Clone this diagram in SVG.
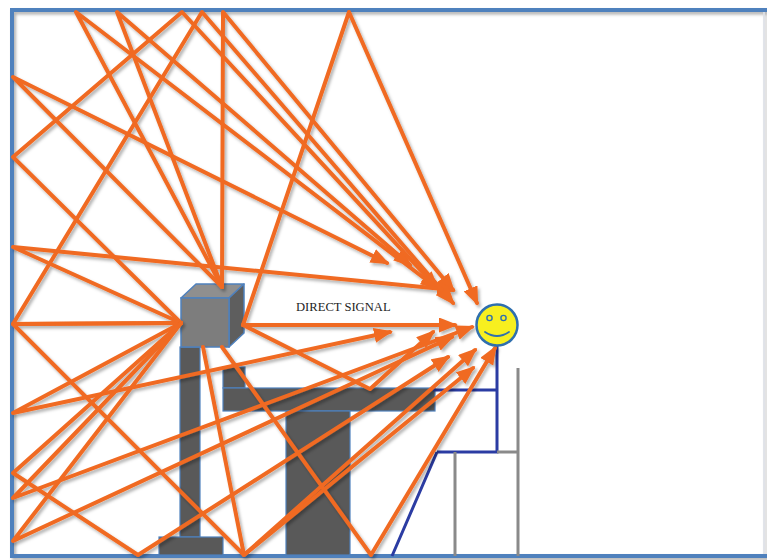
<svg xmlns="http://www.w3.org/2000/svg" width="767" height="560" viewBox="0 0 767 560">
  <style>
    .ray { fill: none; stroke: #f06a22; stroke-width: 4; stroke-linejoin: round; stroke-linecap: round; marker-end: url(#head); }
    .seg { fill: none; stroke: #f06a22; stroke-width: 4; stroke-linejoin: round; stroke-linecap: round; }
    .dark { fill: #595959; stroke: #4f81bd; stroke-width: 1.2; }
    .chair { fill: none; stroke: #2b3ca3; stroke-width: 3; }
    .post { fill: none; stroke: #8a8a8a; stroke-width: 3; }
    .label { font-family: "Liberation Serif", "DejaVu Serif", serif; font-size: 12.6px; fill: #1e1e1e; }
  </style>
  <defs>
    <marker id="head" markerUnits="userSpaceOnUse" markerWidth="19" markerHeight="15" refX="16" refY="7.5" orient="auto">
      <path d="M0,0 L19,7.5 L0,15 Z" fill="#f06a22"/>
    </marker>
    <filter id="shadow" x="-5%" y="-5%" width="110%" height="110%">
      <feDropShadow dx="2" dy="2.5" stdDeviation="1.5" flood-color="#000" flood-opacity="0.3"/>
    </filter>
  </defs>

  <rect width="767" height="560" fill="#ffffff"/>

  <!-- room outline -->
  <g id="room" filter="url(#shadow)">
    <line x1="764" y1="10" x2="764" y2="556" stroke="#d8dde3" stroke-width="1.5"/>
    <path d="M767,10 L12,10 L12,556 L767,556" fill="none" stroke="#4f81bd" stroke-width="4"/>
  </g>

  <!-- stand under the transmitter -->
  <g id="stand">
    <rect class="dark" x="180" y="347" width="20" height="190"/>
    <rect class="dark" x="159" y="537" width="64" height="18"/>
  </g>

  <!-- desk -->
  <g id="desk">
    <rect class="dark" x="223" y="367" width="22" height="21"/>
    <rect class="dark" x="223" y="388" width="212" height="23"/>
    <rect class="dark" x="286" y="411" width="64" height="144"/>
  </g>

  <!-- chair -->
  <g id="chair">
    <path class="chair" d="M433,390 L497,390 M497,346 L497,452 L437,452 M392,556 L437,452"/>
    <path class="post" d="M497,452 L518,452 M518,368 L518,556 M455,452 L455,556"/>
  </g>

  <!-- transmitter cube -->
  <g id="transmitter">
    <polygon points="181,298 196,284 244,284 229,298" fill="#8f8f8f" stroke="#4f81bd" stroke-width="1.5" stroke-linejoin="round"/>
    <polygon points="229,298 244,284 244,333 229,347" fill="#5e5e5e" stroke="#4f81bd" stroke-width="1.5" stroke-linejoin="round"/>
    <rect x="181" y="298" width="48" height="49" fill="#7d7d7d" stroke="#4f81bd" stroke-width="1.5"/>
  </g>

  <!-- signal paths -->
  <g id="connectors" filter="url(#shadow)">
    <!-- direct path -->
    <path class="ray" d="M243,325 L455,325"/>
    <!-- reflections from the cube top -->
    <path class="ray" d="M222,287 L76,12 L437,288"/>
    <path class="ray" d="M222,287 L117,12 L410,265"/>
    <path class="ray" d="M222,287 L223,12 L453,290"/>
    <path class="ray" d="M222,287 L13,77 L387,263"/>
    <!-- reflections from the right face -->
    <path class="ray" d="M243,325 L349,12 L477,303"/>
    <path class="ray" d="M243,325 L370,389 L433,332"/>
    <!-- reflections from the left face -->
    <path class="ray" d="M181,323 L13,157 L182,12 L437,288"/>
    <path class="ray" d="M181,323 L13,247 L453,290"/>
    <path class="ray" d="M181,323 L13,324 L202,12 L453,303"/>
    <path class="ray" d="M181,323 L13,324 L244,555 L475,350"/>
    <path class="ray" d="M181,323 L13,413 L390,332"/>
    <path class="ray" d="M181,323 L13,473 L138,555 L448,357"/>
    <path class="ray" d="M181,323 L13,498 L472,327"/>
    <path class="ray" d="M181,323 L13,541 L452,337"/>
    <!-- reflections from the floor -->
    <path class="ray" d="M203,347 L244,555 L473,368"/>
    <path class="ray" d="M222,347 L371,555 L495,348"/>
  </g>

  <text class="label" x="296" y="311">DIRECT SIGNAL</text>

  <!-- receiver -->
  <g id="receiver">
    <circle cx="497" cy="325" r="20.5" fill="#f7ef1f" stroke="#2f6fae" stroke-width="2.5"/>
    <circle cx="489.5" cy="318" r="2.6" fill="#f7ef1f" stroke="#2f6fae" stroke-width="1.4"/>
    <circle cx="503.5" cy="318" r="2.6" fill="#f7ef1f" stroke="#2f6fae" stroke-width="1.4"/>
    <path d="M485,332 Q497,340 509,332" fill="none" stroke="#2f6fae" stroke-width="1.8" stroke-linecap="round"/>
  </g>
</svg>
